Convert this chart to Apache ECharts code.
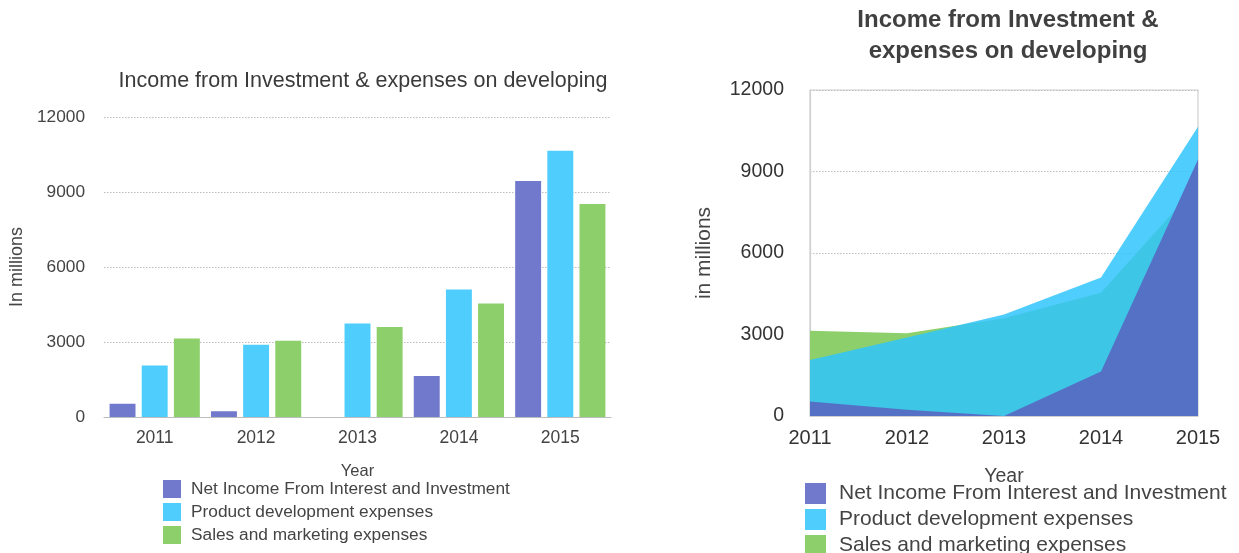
<!DOCTYPE html>
<html>
<head>
<meta charset="utf-8">
<script src="https://cdn.jsdelivr.net/npm/echarts@6/dist/echarts.min.js"></script>
<style>
  html, body { margin: 0; padding: 0; background: #fff; }
  #chart { width: 1239px; height: 553px; }
</style>
</head>
<body>
<div id="chart"></div>
<script>
// Yearly figures, in millions
const years = ['2011', '2012', '2013', '2014', '2015'];
const netIncome = [530, 230, 0, 1640, 9440];
const productDev = [2060, 2890, 3740, 5100, 10650];
const salesMarketing = [3140, 3050, 3600, 4540, 8520];
const yTicks = { min: 0, max: 12000, interval: 3000 };

const names = [
  'Net Income From Interest and Investment',
  'Product development expenses',
  'Sales and marketing expenses'
];
const colors = ['#7179cc', '#4fcefd', '#8dd06b'];
const FONT = '"Liberation Sans", Arial, sans-serif';
const plain = v => String(v);

const chart = echarts.init(document.getElementById('chart'), null, { renderer: 'canvas' });

function bar(name, data, color) {
  return {
    type: 'bar', name, data, xAxisIndex: 0, yAxisIndex: 0,
    itemStyle: { color },
    barGap: '24%', barCategoryGap: '11%',
    emphasis: { disabled: true }
  };
}
function area(name, data, fill) {
  return {
    type: 'line', name, data, xAxisIndex: 1, yAxisIndex: 1,
    symbol: 'none', lineStyle: { width: 0 },
    itemStyle: { color: fill },
    areaStyle: { color: fill, opacity: 1 },
    emphasis: { disabled: true }
  };
}

chart.setOption({
  animation: false,
  textStyle: { fontFamily: FONT },
  title: [
    {
      text: 'Income from Investment & expenses on developing',
      left: 358, top: 65, textAlign: 'center',
      textStyle: { fontFamily: FONT, fontSize: 21.5, fontWeight: 'normal', color: '#3a3a3a' }
    },
    {
      text: 'Income from Investment &\nexpenses on developing',
      left: 1003, top: 0, textAlign: 'center',
      textStyle: { fontFamily: FONT, fontSize: 24, fontWeight: 'bold', color: '#404040', lineHeight: 31 }
    }
  ],
  legend: [
    {
      orient: 'vertical', left: 158, top: 475, height: 80,
      itemWidth: 18, itemHeight: 18, itemGap: 5, icon: 'rect',
      selectedMode: false,
      data: names,
      textStyle: { fontFamily: FONT, fontSize: 17.3, color: '#444', padding: [0, 0, 0, 5] }
    },
    {
      orient: 'vertical', left: 800, top: 478, height: 90,
      itemWidth: 21, itemHeight: 21, itemGap: 5, icon: 'rect',
      selectedMode: false,
      data: names,
      textStyle: { fontFamily: FONT, fontSize: 21, color: '#444', padding: [0, 0, 0, 8] }
    }
  ],
  grid: [
    { left: 104, right: 628, top: 117, bottom: 136, containLabel: false },
    { left: 810, right: 41, top: 90, bottom: 137, containLabel: false,
      show: true, borderColor: '#cfcfcf', borderWidth: 1.2, backgroundColor: 'transparent' }
  ],
  xAxis: [
    {
      type: 'category', gridIndex: 0, data: years,
      name: 'Year', nameLocation: 'middle', nameGap: 46,
      nameTextStyle: { fontFamily: FONT, fontSize: 16.5, color: '#444' },
      axisLine: { lineStyle: { color: '#bdbdbd', width: 1.2 } },
      axisTick: { show: false },
      axisLabel: { fontFamily: FONT, fontSize: 17.5, color: '#444', margin: 12 }
    },
    {
      type: 'category', gridIndex: 1, data: years, boundaryGap: false,
      name: 'Year', nameLocation: 'middle', nameGap: 51,
      nameTextStyle: { fontFamily: FONT, fontSize: 19.5, color: '#444' },
      axisLine: { lineStyle: { color: '#cfcfcf', width: 1.2 } },
      axisTick: { show: false },
      axisLabel: { fontFamily: FONT, fontSize: 20, color: '#333', margin: 12 }
    }
  ],
  yAxis: [
    {
      type: 'value', gridIndex: 0, ...yTicks,
      name: 'In millions', nameLocation: 'middle', nameGap: 78, nameRotate: 90,
      nameTextStyle: { fontFamily: FONT, fontSize: 18, color: '#444' },
      axisLine: { show: false }, axisTick: { show: false },
      axisLabel: { fontFamily: FONT, fontSize: 17.3, color: '#444', margin: 19, formatter: plain },
      splitLine: { lineStyle: { color: '#bdbdbd', type: [1.5, 1.5], width: 1 } }
    },
    {
      type: 'value', gridIndex: 1, ...yTicks,
      name: 'in millions', nameLocation: 'middle', nameGap: 95, nameRotate: 90,
      nameTextStyle: { fontFamily: FONT, fontSize: 21, color: '#444' },
      axisLine: { show: true, lineStyle: { color: '#cfcfcf', width: 1.2 } }, axisTick: { show: false },
      axisLabel: { fontFamily: FONT, fontSize: 19.5, color: '#333', margin: 26, formatter: plain },
      splitLine: { lineStyle: { color: '#bdbdbd', type: [1.5, 1.5], width: 1 } }
    }
  ],
  series: [
    bar(names[0], netIncome, colors[0]),
    bar(names[1], productDev, colors[1]),
    bar(names[2], salesMarketing, colors[2]),
    area(names[2], salesMarketing, '#8dd06b'),
    area(names[1], productDev, 'rgba(48,196,253,0.85)'),
    area(names[0], netIncome, '#5571c6')
  ]
});
</script>
</body>
</html>
